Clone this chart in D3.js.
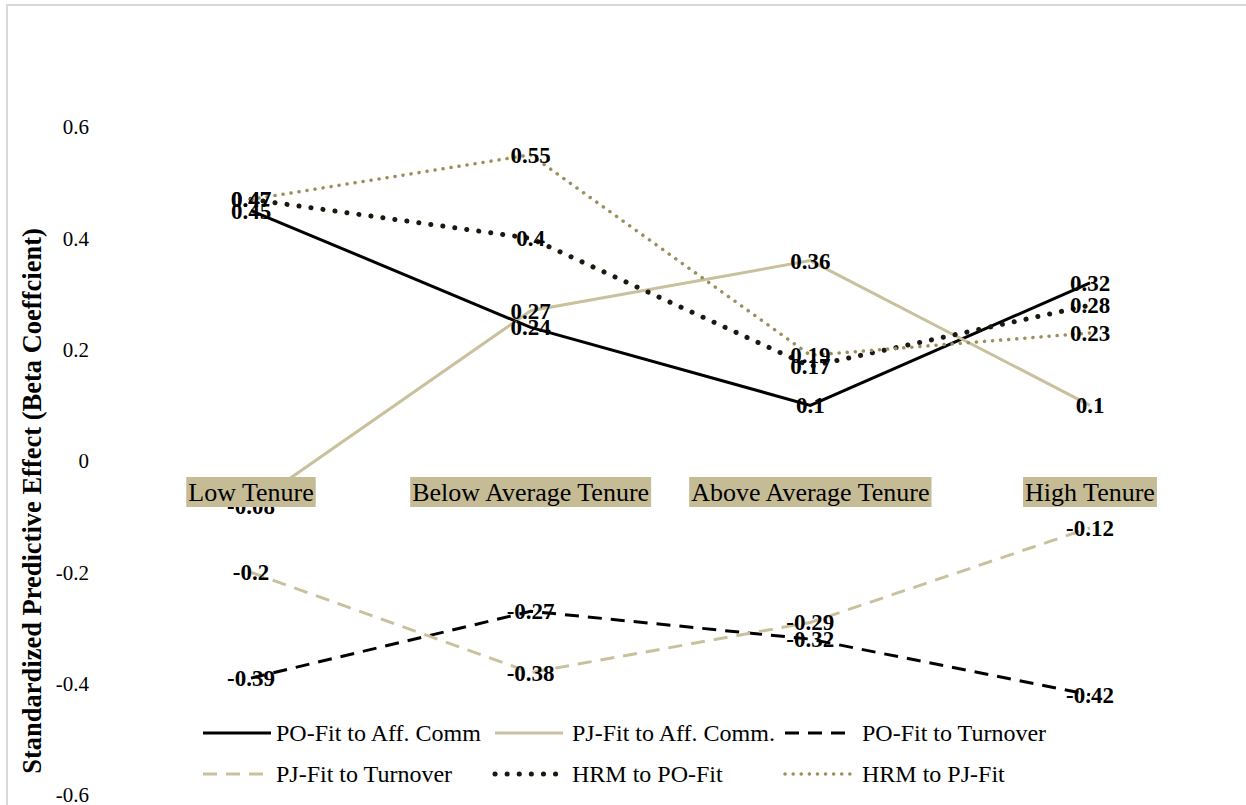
<!DOCTYPE html>
<html>
<head>
<meta charset="utf-8">
<script src="https://cdn.jsdelivr.net/npm/d3@7"></script>
<style>
  body { margin: 0; background: #fff; }
  svg { display: block; }
</style>
</head>
<body>
<div id="chart"></div>
<script>
// Dữ liệu
const categories = ["Low Tenure", "Below Average Tenure", "Above Average Tenure", "High Tenure"];
const seriesNames = ["PO-Fit to Aff. Comm", "PJ-Fit to Aff. Comm.", "PO-Fit to Turnover",
                     "PJ-Fit to Turnover", "HRM to PO-Fit", "HRM to PJ-Fit"];
const poAffComm = [0.45, 0.24, 0.1, 0.32];
const pjAffComm = [-0.08, 0.27, 0.36, 0.1];
const poTurnover = [-0.39, -0.27, -0.32, -0.42];
const pjTurnover = [-0.2, -0.38, -0.29, -0.12];
const hrmPoFit = [0.47, 0.4, 0.17, 0.28];
const hrmPjFit = [0.47, 0.55, 0.19, 0.23];
const yTicks = [-0.6, -0.4, -0.2, 0, 0.2, 0.4, 0.6];
const yTickLabels = ["-0.6", "-0.4", "-0.2", "0", "0.2", "0.4", "0.6"];

const width = 1246, height = 805;
const font = "'Liberation Serif', 'Times New Roman', serif";

// Kiểu đường cho từng series
const styles = [
    { color: "#000000", w: 3, dash: null, cap: "butt" },
    { color: "#c9c09d", w: 3, dash: null, cap: "butt" },
    { color: "#000000", w: 3, dash: "14,9", cap: "butt" },
    { color: "#c9c09d", w: 3, dash: "14,9", cap: "butt" },
    { color: "#1c1810", w: 5, dash: "0.1,12", cap: "round" },
    { color: "#9d8f5b", w: 3.5, dash: "0.1,8", cap: "round" }
];
const seriesValues = [poAffComm, pjAffComm, poTurnover, pjTurnover, hrmPoFit, hrmPjFit];

const svg = d3.select("#chart").append("svg")
    .attr("width", width)
    .attr("height", height)
    .style("font-family", font);

// Viền khung
svg.append("rect")
    .attr("x", 7).attr("y", 5)
    .attr("width", width).attr("height", height)
    .attr("fill", "none")
    .attr("stroke", "#d9d9d9")
    .attr("stroke-width", 2);

const x = d3.scalePoint().domain(categories).range([251, 1090]);
const y = d3.scaleLinear().domain([-0.6, 0.6]).range([795, 127]);

// Trục y (chỉ nhãn)
svg.append("g")
    .selectAll("text")
    .data(yTicks)
    .join("text")
    .attr("x", 89)
    .attr("y", d => y(d))
    .attr("dy", "0.35em")
    .attr("text-anchor", "end")
    .style("font-size", "21px")
    .text((d, i) => yTickLabels[i]);

// Tiêu đề trục y
svg.append("text")
    .attr("transform", `translate(41,501) rotate(-90)`)
    .attr("text-anchor", "middle")
    .style("font-size", "26.5px")
    .style("font-weight", "bold")
    .text("Standardized Predictive Effect (Beta Coeffcient)");

// Vẽ các đường
const line = d3.line()
    .x((d, i) => x(categories[i]))
    .y(d => y(d));

seriesValues.forEach((vals, k) => {
    const s = styles[k];
    svg.append("path")
        .datum(vals)
        .attr("d", line)
        .attr("fill", "none")
        .attr("stroke", s.color)
        .attr("stroke-width", s.w)
        .attr("stroke-linecap", s.cap)
        .attr("stroke-dasharray", s.dash);
});

// Nhãn dữ liệu
seriesValues.forEach(vals => {
    svg.append("g")
        .selectAll("text")
        .data(vals)
        .join("text")
        .attr("x", (d, i) => x(categories[i]))
        .attr("y", d => y(d))
        .attr("dy", "0.35em")
        .attr("text-anchor", "middle")
        .style("font-size", "23px")
        .style("font-weight", "bold")
        .text(d => String(d));
});

// Nhãn danh mục có nền
const catG = svg.append("g");
categories.forEach(c => {
    const g = catG.append("g");
    const rect = g.append("rect").attr("fill", "#c5bc96");
    const t = g.append("text")
        .attr("x", x(c))
        .attr("y", 492)
        .attr("dy", "0.35em")
        .attr("text-anchor", "middle")
        .style("font-size", "26px")
        .text(c);
    const bb = t.node().getBBox();
    rect.attr("x", bb.x - 2).attr("y", 477)
        .attr("width", bb.width + 4).attr("height", 30);
});

// Chú thích
const legendX = [203, 495, 785];
const legendTextX = [276, 572, 862];
const legendY = [733, 774];
const legend = svg.append("g");
seriesNames.forEach((name, k) => {
    const col = k % 3, row = Math.floor(k / 3);
    const s = styles[k];
    const ly = legendY[row];
    legend.append("line")
        .attr("x1", legendX[col]).attr("x2", legendX[col] + 68)
        .attr("y1", ly).attr("y2", ly)
        .attr("stroke", s.color)
        .attr("stroke-width", s.w)
        .attr("stroke-linecap", s.cap)
        .attr("stroke-dasharray", s.dash);
    legend.append("text")
        .attr("x", legendTextX[col])
        .attr("y", ly)
        .attr("dy", "0.35em")
        .style("font-size", "24px")
        .text(name);
});
</script>
</body>
</html>
